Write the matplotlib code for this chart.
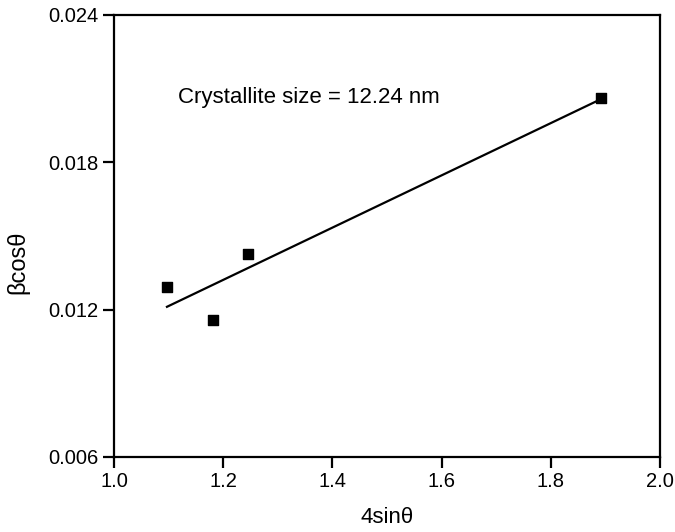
import numpy as np
import matplotlib
matplotlib.use("Agg")
import matplotlib.pyplot as plt

plt.rcParams['font.family'] = ['Liberation Sans', 'DejaVu Sans']

x_vals = [1.097, 1.181, 1.245, 1.892]
y_vals = [0.01292, 0.01158, 0.01426, 0.02061]
x_ticks = [1.0, 1.2, 1.4, 1.6, 1.8, 2.0]
y_ticks = [0.006, 0.012, 0.018, 0.024]
annotation = "Crystallite size = 12.24 nm"

fig = plt.figure(figsize=(6.75, 5.32), dpi=100)
ax = fig.add_axes([0.1689, 0.141, 0.9778 - 0.1689, 0.9724 - 0.141])

slope, intercept = np.polyfit(x_vals, y_vals, 1)
xf = np.array([min(x_vals), max(x_vals)])
ax.plot(xf, slope * xf + intercept, color='black', lw=1.6, zorder=2)
ax.scatter(x_vals, y_vals, marker='s', s=55, color='black', zorder=3)

ax.set_xlim(1.0, 2.0)
ax.set_ylim(0.006, 0.024)
ax.set_xticks(x_ticks)
ax.set_xticklabels([f"{v:.1f}" for v in x_ticks])
ax.set_yticks(y_ticks)
ax.set_yticklabels([f"{v:.3f}" for v in y_ticks])
ax.tick_params(direction='out', length=8, width=1.6, labelsize=14.5, colors='black', pad=3)
for s in ax.spines.values():
    s.set_linewidth(1.6)

ax.set_xlabel("4sinθ", fontsize=16)
ax.xaxis.set_label_coords(0.5, -0.113)
ax.set_ylabel("βcosθ", fontsize=17)
ax.yaxis.set_label_coords(-0.155, 0.441)

ax.text(0.117, 0.812, annotation, transform=ax.transAxes, fontsize=16, va='center', ha='left')

fig.savefig("out.png", dpi=100)
